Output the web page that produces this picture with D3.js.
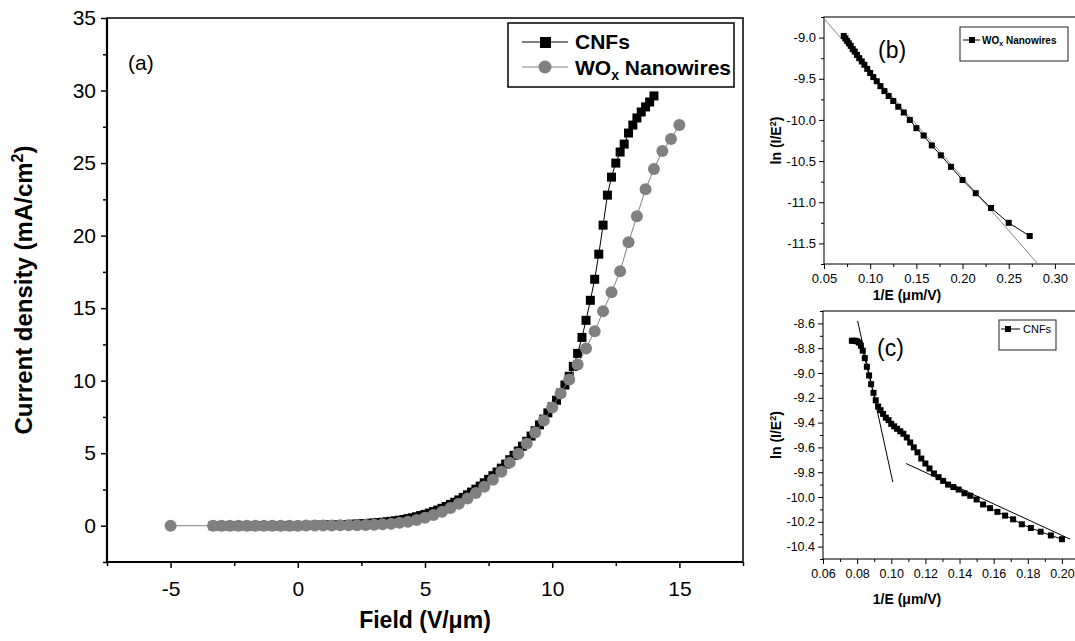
<!DOCTYPE html>
<html>
<head>
<meta charset="utf-8">
<script src="https://cdn.jsdelivr.net/npm/d3@7"></script>
<style>
  body { margin: 0; background: #fff; }
  text { font-family: "Liberation Sans", Arial, sans-serif; }
</style>
</head>
<body>
<div id="container"></div>
<script>
/* CONSTANTS AND GLOBALS */
const width = 1075, height = 641;

/* DATA */
// (a) current density vs field
const cnfField = [-3.33,-3.17,-3.00,-2.83,-2.67,-2.50,-2.33,-2.17,-2.00,-1.83,-1.67,-1.50,-1.33,-1.17,-1.00,-0.83,-0.67,-0.50,-0.33,-0.17,0.00,
  0.17,0.33,0.50,0.67,0.83,1.00,1.17,1.33,1.50,1.67,1.83,2.00,
  2.17,2.33,2.50,2.67,2.83,3.00,3.17,3.33,3.50,3.67,3.83,4.00,
  4.17,4.33,4.50,4.67,4.83,5.00,5.17,5.33,5.50,5.67,5.83,6.00,
  6.17,6.33,6.50,6.67,6.83,7.00,7.17,7.33,7.50,7.67,7.83,8.00,
  8.17,8.33,8.50,8.67,8.83,9.00,9.17,9.33,9.50,9.67,9.83,10.00,
  10.17,10.33,10.50,10.67,10.83,11.00,11.17,11.33,11.50,11.67,11.83,12.00,
  12.17,12.33,12.50,12.67,12.83,13.00,13.17,13.33,13.50,13.67,13.83,14.00];
const cnfJ = [0,0,0,0,0,0,0,0,0,0,0,0,0,0,0,0,0,0,0,0,0,
  0.01,0.02,0.02,0.03,0.03,0.04,0.05,0.05,0.06,0.07,0.08,0.09,
  0.10,0.12,0.13,0.15,0.17,0.19,0.21,0.24,0.27,0.30,0.34,0.38,
  0.43,0.49,0.55,0.62,0.70,0.78,0.87,0.97,1.08,1.20,1.33,1.47,
  1.62,1.78,1.95,2.13,2.32,2.52,2.73,2.96,3.20,3.45,3.70,3.97,
  4.25,4.55,4.85,5.15,5.48,5.82,6.18,6.55,6.95,7.35,7.78,8.20,
  8.65,9.15,9.70,10.30,10.98,11.88,12.98,14.16,15.54,16.99,18.72,20.72,
  22.79,24.03,25.00,25.76,26.31,27.07,27.62,28.11,28.52,28.87,29.21,29.63];

const woxField = [-5.00,-3.33,-3.00,-2.67,-2.33,-2.00,-1.67,-1.33,-1.00,-0.67,-0.33,0.00,
  0.33,0.67,1.00,1.33,1.67,2.00,2.33,2.67,3.00,3.33,3.67,4.00,
  4.33,4.67,5.00,5.33,5.67,6.00,6.33,6.67,7.00,7.33,7.67,8.00,
  8.33,8.67,9.00,9.33,9.67,10.00,10.33,10.67,11.00,11.33,11.67,12.00,
  12.33,12.67,13.00,13.33,13.67,14.00,14.33,14.67,15.00];
const woxJ = [0,0,0,0,0,0,0,0,0,0,0,0,
  0.01,0.01,0.02,0.02,0.03,0.03,0.04,0.05,0.07,0.10,0.14,0.20,
  0.28,0.40,0.55,0.74,0.96,1.22,1.52,1.88,2.26,2.68,3.17,3.72,
  4.35,4.97,5.66,6.42,7.25,8.15,9.12,10.08,11.12,12.22,13.40,14.78,
  16.09,17.54,19.54,21.34,23.20,24.59,25.83,26.66,27.62];

// (b) F-N plot, WOx nanowires
const fnWoxX = [0.0714,0.0732,0.0750,0.0769,0.0789,0.0811,0.0833,0.0857,0.0882,0.0909,0.0937,0.0968,
  0.1000,0.1034,0.1071,0.1111,0.1154,0.1200,0.1250,0.1304,0.1364,0.1429,0.1500,0.1579,
  0.1667,0.1765,0.1875,0.2000,0.2143,0.2308,0.2500,0.2727];
const fnWoxY = [-8.98,-9.01,-9.04,-9.07,-9.10,-9.14,-9.17,-9.21,-9.25,-9.29,-9.33,-9.38,
  -9.43,-9.48,-9.53,-9.59,-9.65,-9.71,-9.77,-9.84,-9.91,-10.00,-10.10,-10.19,
  -10.31,-10.43,-10.57,-10.73,-10.89,-11.07,-11.25,-11.41];
const fitWoxX = [0.05, 0.2816];
const fitWoxY = [-8.77, -11.75];

// (c) F-N plot, CNFs
const fnCnfX = [0.0769,0.0779,0.0789,0.0800,0.0811,0.0822,0.0833,0.0845,0.0857,0.0870,0.0882,0.0896,
  0.0909,0.0923,0.0937,0.0952,0.0968,0.0984,0.1000,0.1017,0.1034,0.1053,0.1071,0.1091,
  0.1111,0.1132,0.1154,0.1176,0.1200,0.1224,0.1250,0.1277,0.1304,0.1333,0.1364,0.1395,
  0.1429,0.1463,0.1500,0.1538,0.1579,0.1622,0.1667,0.1714,0.1765,0.1818,0.1875,0.1935,0.2000];
const fnCnfY = [-8.74,-8.74,-8.74,-8.745,-8.755,-8.78,-8.82,-8.88,-8.95,-9.02,-9.09,-9.16,
  -9.22,-9.27,-9.30,-9.33,-9.36,-9.38,-9.41,-9.43,-9.45,-9.47,-9.49,-9.52,
  -9.56,-9.60,-9.64,-9.69,-9.73,-9.77,-9.81,-9.84,-9.87,-9.90,-9.92,-9.94,
  -9.97,-9.99,-10.02,-10.06,-10.09,-10.12,-10.15,-10.18,-10.22,-10.25,-10.28,-10.31,-10.34];
const fitCnf1X = [0.0803, 0.1009];
const fitCnf1Y = [-8.58, -9.88];
const fitCnf2X = [0.1087, 0.2048];
const fitCnf2Y = [-9.73, -10.34];

// tick labels
const aXTicks = [-5, 0, 5, 10, 15];
const aYTicks = [0, 5, 10, 15, 20, 25, 30, 35];
const bXTicks = [0.05, 0.10, 0.15, 0.20, 0.25, 0.30];
const bYTicks = [-9.0, -9.5, -10.0, -10.5, -11.0, -11.5];
const cXTicks = [0.06, 0.08, 0.10, 0.12, 0.14, 0.16, 0.18, 0.20];
const cYTicks = [-8.6, -8.8, -9.0, -9.2, -9.4, -9.6, -9.8, -10.0, -10.2, -10.4];

const zip = (xs, ys) => xs.map((x, i) => ({ x: x, y: ys[i] }));

/* SVG */
const svg = d3.select("#container")
  .append("svg")
  .attr("width", width)
  .attr("height", height)
  .style("background", "#fff");

// helper to style an axis group
function styleAxis(g, size, stroke) {
  g.select(".domain").remove();
  g.selectAll(".tick line").attr("stroke", "#000").attr("stroke-width", stroke);
  g.selectAll(".tick text")
    .attr("fill", "#000")
    .attr("font-size", size)
    .attr("font-family", '"Liberation Sans", Arial, sans-serif');
}

// bold title with a superscript 2 inside, e.g. "ln (I/E" + "2" + ")"
function supTitle(sel, before, after, size, supSize, shift) {
  sel.append("tspan").text(before);
  sel.append("tspan").attr("font-size", supSize).attr("dy", -shift).text("2");
  sel.append("tspan").attr("font-size", size).attr("dy", shift).text(after);
}

/* ---------- PANEL (a) ---------- */
const xA = d3.scaleLinear().domain([-7.5, 17.5]).range([107, 743]);
const yA = d3.scaleLinear().domain([-2.5, 35]).range([562, 18]);

svg.append("rect")
  .attr("x", xA(-7.5)).attr("y", yA(35))
  .attr("width", xA(17.5) - xA(-7.5)).attr("height", yA(-2.5) - yA(35))
  .attr("fill", "none").attr("stroke", "#000").attr("stroke-width", 1.5);

// minor ticks
svg.append("g").attr("transform", `translate(0,${yA(-2.5)})`)
  .call(d3.axisBottom(xA).tickValues([-7.5, -2.5, 2.5, 7.5, 12.5, 17.5]).tickSize(4).tickFormat(""))
  .call(g => styleAxis(g, 21, 1.5));
svg.append("g").attr("transform", `translate(${xA(-7.5)},0)`)
  .call(d3.axisLeft(yA).tickValues([-2.5, 2.5, 7.5, 12.5, 17.5, 22.5, 27.5, 32.5]).tickSize(4).tickFormat(""))
  .call(g => styleAxis(g, 21, 1.5));

// major ticks
svg.append("g").attr("transform", `translate(0,${yA(-2.5)})`)
  .call(d3.axisBottom(xA).tickValues(aXTicks).tickSize(6).tickPadding(13).tickFormat(d => String(d)))
  .call(g => styleAxis(g, 21, 1.5));
svg.append("g").attr("transform", `translate(${xA(-7.5)},0)`)
  .call(d3.axisLeft(yA).tickValues(aYTicks).tickSize(6).tickPadding(5).tickFormat(d => String(d)))
  .call(g => styleAxis(g, 21, 1.5));

// thick left / bottom axis lines
svg.append("line").attr("x1", xA(-7.5)).attr("x2", xA(-7.5)).attr("y1", yA(35)).attr("y2", yA(-2.5) + 1)
  .attr("stroke", "#000").attr("stroke-width", 2.2);
svg.append("line").attr("x1", xA(-7.5) - 1).attr("x2", xA(17.5)).attr("y1", yA(-2.5)).attr("y2", yA(-2.5))
  .attr("stroke", "#000").attr("stroke-width", 2.2);

// axis titles
svg.append("text")
  .attr("transform", `translate(32,${(yA(35) + yA(-2.5)) / 2}) rotate(-90)`)
  .attr("text-anchor", "middle")
  .attr("font-weight", "bold")
  .attr("font-size", 24)
  .call(t => supTitle(t, "Current density (mA/cm", ")", 24, 16, 9));

svg.append("text")
  .attr("x", (xA(-7.5) + xA(17.5)) / 2)
  .attr("y", 628)
  .attr("text-anchor", "middle")
  .attr("font-weight", "bold")
  .attr("font-size", 23)
  .text("Field (V/\u03bcm)");

svg.append("text").attr("x", 128).attr("y", 70).attr("font-size", 21).text("(a)");

// lines and markers
const lineA = d3.line().x(d => xA(d.x)).y(d => yA(d.y));
const cnfData = zip(cnfField, cnfJ);
const woxData = zip(woxField, woxJ);

svg.append("path").datum(cnfData)
  .attr("fill", "none").attr("stroke", "#000").attr("stroke-width", 1)
  .attr("d", lineA);
svg.selectAll(".cnfpt").data(cnfData).join("rect")
  .attr("class", "cnfpt")
  .attr("x", d => xA(d.x) - 4.5).attr("y", d => yA(d.y) - 4.5)
  .attr("width", 9).attr("height", 9).attr("fill", "#000");

svg.append("path").datum(woxData)
  .attr("fill", "none").attr("stroke", "#808080").attr("stroke-width", 1)
  .attr("d", lineA);
svg.selectAll(".woxpt").data(woxData).join("circle")
  .attr("class", "woxpt")
  .attr("cx", d => xA(d.x)).attr("cy", d => yA(d.y))
  .attr("r", 6).attr("fill", "#808080");

// legend (a)
const legA = svg.append("g");
legA.append("rect").attr("x", 508).attr("y", 23).attr("width", 226).attr("height", 64)
  .attr("fill", "#fff").attr("stroke", "#000").attr("stroke-width", 1.5);
legA.append("line").attr("x1", 522).attr("x2", 568).attr("y1", 42).attr("y2", 42)
  .attr("stroke", "#000").attr("stroke-width", 1);
legA.append("rect").attr("x", 540).attr("y", 37).attr("width", 11).attr("height", 11).attr("fill", "#000");
legA.append("text").attr("x", 575).attr("y", 49).attr("font-size", 21).attr("font-weight", "bold").text("CNFs");
legA.append("line").attr("x1", 522).attr("x2", 568).attr("y1", 67).attr("y2", 67)
  .attr("stroke", "#808080").attr("stroke-width", 1);
legA.append("circle").attr("cx", 545).attr("cy", 67).attr("r", 6.5).attr("fill", "#808080");
const legAText = legA.append("text").attr("x", 575).attr("y", 75).attr("font-size", 21).attr("font-weight", "bold");
legAText.append("tspan").text("WO");
legAText.append("tspan").attr("font-size", 14).attr("dy", 5).text("x");
legAText.append("tspan").attr("dy", -5).text(" Nanowires");

/* ---------- PANEL (b) ---------- */
const xB = d3.scaleLinear().domain([0.05, 0.325]).range([824, 1078]);
const yB = d3.scaleLinear().domain([-11.75, -8.75]).range([264, 17]);

svg.append("rect")
  .attr("x", xB(0.05)).attr("y", yB(-8.75))
  .attr("width", xB(0.325) - xB(0.05)).attr("height", yB(-11.75) - yB(-8.75))
  .attr("fill", "none").attr("stroke", "#222").attr("stroke-width", 1.2);

svg.append("g").attr("transform", `translate(0,${yB(-11.75)})`)
  .call(d3.axisBottom(xB).tickValues([0.075, 0.125, 0.175, 0.225, 0.275, 0.325]).tickSize(3).tickFormat(""))
  .call(g => styleAxis(g, 13, 1));
svg.append("g").attr("transform", `translate(${xB(0.05)},0)`)
  .call(d3.axisLeft(yB).tickValues([-8.75, -9.25, -9.75, -10.25, -10.75, -11.25, -11.75]).tickSize(3).tickFormat(""))
  .call(g => styleAxis(g, 13, 1));
svg.append("g").attr("transform", `translate(0,${yB(-11.75)})`)
  .call(d3.axisBottom(xB).tickValues(bXTicks).tickSize(5).tickPadding(5).tickFormat(d => d.toFixed(2)))
  .call(g => styleAxis(g, 13, 1));
svg.append("g").attr("transform", `translate(${xB(0.05)},0)`)
  .call(d3.axisLeft(yB).tickValues(bYTicks).tickSize(5).tickPadding(3).tickFormat(d => d.toFixed(1)))
  .call(g => styleAxis(g, 13, 1));

svg.append("text")
  .attr("transform", `translate(781,${(yB(-8.75) + yB(-11.75)) / 2}) rotate(-90)`)
  .attr("text-anchor", "middle").attr("font-weight", "bold").attr("font-size", 14)
  .call(t => supTitle(t, "ln (I/E", ")", 14, 9, 5));
svg.append("text").attr("x", 907).attr("y", 300).attr("text-anchor", "middle")
  .attr("font-weight", "bold").attr("font-size", 14).text("1/E (\u03bcm/V)");
svg.append("text").attr("x", 878).attr("y", 58).attr("font-size", 23).text("(b)");

const lineB = d3.line().x(d => xB(d.x)).y(d => yB(d.y));
svg.append("path").datum(zip(fitWoxX, fitWoxY))
  .attr("fill", "none").attr("stroke", "#888").attr("stroke-width", 1).attr("d", lineB);
const fnWoxData = zip(fnWoxX, fnWoxY);
svg.append("path").datum(fnWoxData)
  .attr("fill", "none").attr("stroke", "#000").attr("stroke-width", 1).attr("d", lineB);
svg.selectAll(".bpt").data(fnWoxData).join("rect")
  .attr("class", "bpt")
  .attr("x", d => xB(d.x) - 3).attr("y", d => yB(d.y) - 3)
  .attr("width", 6).attr("height", 6).attr("fill", "#000");

const legB = svg.append("g");
legB.append("rect").attr("x", 960).attr("y", 27).attr("width", 108).attr("height", 34)
  .attr("fill", "#fff").attr("stroke", "#222").attr("stroke-width", 1);
legB.append("line").attr("x1", 963).attr("x2", 980).attr("y1", 40).attr("y2", 40).attr("stroke", "#000");
legB.append("rect").attr("x", 969).attr("y", 37).attr("width", 6).attr("height", 6).attr("fill", "#000");
const legBText = legB.append("text").attr("x", 982).attr("y", 44).attr("font-size", 10).attr("font-weight", "bold");
legBText.append("tspan").text("WO");
legBText.append("tspan").attr("font-size", 7).attr("dy", 2).text("x");
legBText.append("tspan").attr("dy", -2).text(" Nanowires");

/* ---------- PANEL (c) ---------- */
const xC = d3.scaleLinear().domain([0.06, 0.21]).range([823, 1079]);
const yC = d3.scaleLinear().domain([-10.5, -8.5]).range([559, 311]);

svg.append("rect")
  .attr("x", xC(0.06)).attr("y", yC(-8.5))
  .attr("width", xC(0.21) - xC(0.06)).attr("height", yC(-10.5) - yC(-8.5))
  .attr("fill", "none").attr("stroke", "#222").attr("stroke-width", 1.2);

svg.append("g").attr("transform", `translate(0,${yC(-10.5)})`)
  .call(d3.axisBottom(xC).tickValues([0.07, 0.09, 0.11, 0.13, 0.15, 0.17, 0.19, 0.21]).tickSize(3).tickFormat(""))
  .call(g => styleAxis(g, 13, 1));
svg.append("g").attr("transform", `translate(${xC(0.06)},0)`)
  .call(d3.axisLeft(yC).tickValues([-8.5, -8.7, -8.9, -9.1, -9.3, -9.5, -9.7, -9.9, -10.1, -10.3, -10.5]).tickSize(3).tickFormat(""))
  .call(g => styleAxis(g, 13, 1));
svg.append("g").attr("transform", `translate(0,${yC(-10.5)})`)
  .call(d3.axisBottom(xC).tickValues(cXTicks).tickSize(5).tickPadding(5).tickFormat(d => d.toFixed(2)))
  .call(g => styleAxis(g, 12.5, 1));
svg.append("g").attr("transform", `translate(${xC(0.06)},0)`)
  .call(d3.axisLeft(yC).tickValues(cYTicks).tickSize(5).tickPadding(3).tickFormat(d => d.toFixed(1)))
  .call(g => styleAxis(g, 12.5, 1));

svg.append("text")
  .attr("transform", `translate(781,${(yC(-8.5) + yC(-10.5)) / 2}) rotate(-90)`)
  .attr("text-anchor", "middle").attr("font-weight", "bold").attr("font-size", 14)
  .call(t => supTitle(t, "ln (I/E", ")", 14, 9, 5));
svg.append("text").attr("x", 907).attr("y", 604).attr("text-anchor", "middle")
  .attr("font-weight", "bold").attr("font-size", 14).text("1/E (\u03bcm/V)");
svg.append("text").attr("x", 877).attr("y", 356).attr("font-size", 23).text("(c)");

const lineC = d3.line().x(d => xC(d.x)).y(d => yC(d.y));
[[fitCnf1X, fitCnf1Y], [fitCnf2X, fitCnf2Y]].forEach(([xs, ys]) => {
  svg.append("path").datum(zip(xs, ys))
    .attr("fill", "none").attr("stroke", "#000").attr("stroke-width", 1).attr("d", lineC);
});
const fnCnfData = zip(fnCnfX, fnCnfY);
svg.append("path").datum(fnCnfData)
  .attr("fill", "none").attr("stroke", "#000").attr("stroke-width", 1).attr("d", lineC);
svg.selectAll(".cpt").data(fnCnfData).join("rect")
  .attr("class", "cpt")
  .attr("x", d => xC(d.x) - 3).attr("y", d => yC(d.y) - 3)
  .attr("width", 6).attr("height", 6).attr("fill", "#000");

const legC = svg.append("g");
legC.append("rect").attr("x", 999).attr("y", 320).attr("width", 57).attr("height", 30)
  .attr("fill", "#fff").attr("stroke", "#222").attr("stroke-width", 1);
legC.append("line").attr("x1", 1001).attr("x2", 1020).attr("y1", 329).attr("y2", 329).attr("stroke", "#000");
legC.append("rect").attr("x", 1005).attr("y", 326).attr("width", 6).attr("height", 6).attr("fill", "#000");
legC.append("text").attr("x", 1023).attr("y", 333).attr("font-size", 11).text("CNFs");
</script>
</body>
</html>
